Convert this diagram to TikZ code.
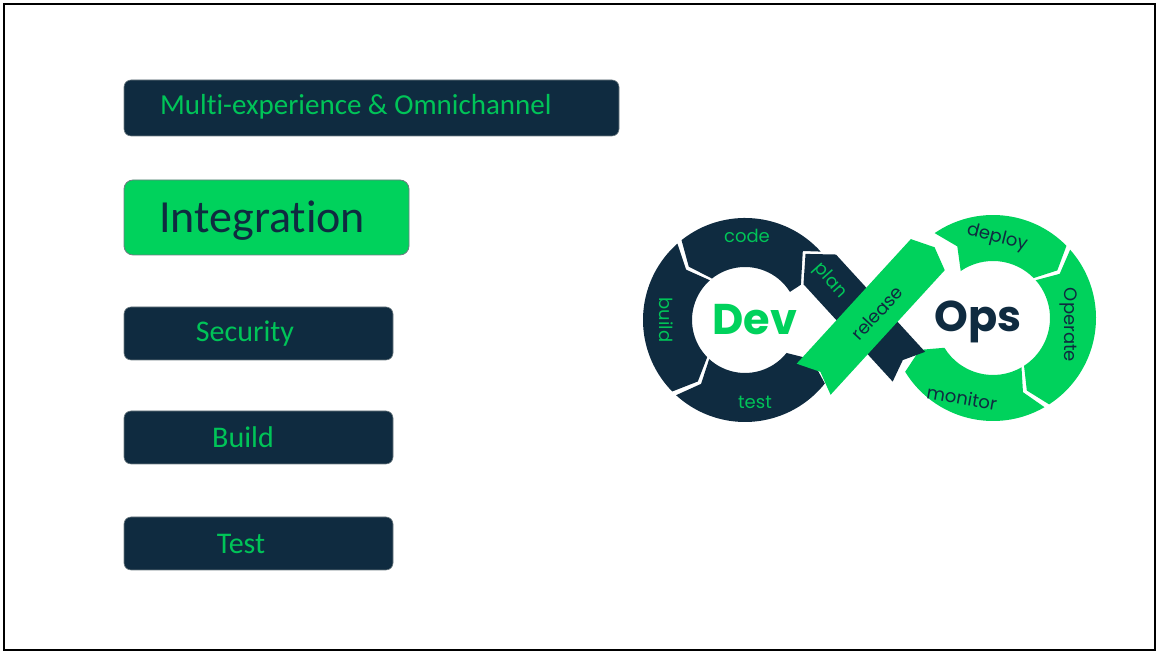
\documentclass[tikz,border=0pt]{standalone}
\usepackage{fontspec}
\setmainfont{Carlito}[Ligatures=NoCommon]
\newfontfamily\devfont{Poppins}
\usetikzlibrary{calc}
\definecolor{navy}{RGB}{15,43,64}
\definecolor{dgreen}{RGB}{0,210,92}
\definecolor{tgreen}{RGB}{0,196,88}
\definecolor{edge}{RGB}{110,125,130}
\newcommand\ringseg[8]{%
  \fill[#8] ([shift={(#1,#2)}]#5:#4) arc[start angle=#5, end angle=#6, radius=#4pt]
    -- ([shift={(#1,#2)}]{#6+#7}:{(#3+#4)/2}) -- ([shift={(#1,#2)}]#6:#3)
    arc[start angle=#6, end angle=#5, radius=#3pt]
    -- ([shift={(#1,#2)}]{#5+#7}:{(#3+#4)/2}) -- cycle;}
\tikzset{
  darkbox/.style={draw=edge, line width=0.6pt, fill=navy, rounded corners=7pt},
  greenbox/.style={draw=edge, line width=0.8pt, fill=dgreen, rounded corners=9pt},
  boxtext/.style={text=tgreen, font=\fontsize{30}{34}\selectfont, inner sep=0pt},
  lblg/.style={text=tgreen, font=\devfont\fontsize{18}{20}\selectfont, inner sep=0pt},
  lbld/.style={text=navy, font=\devfont\fontsize{18}{20}\selectfont, inner sep=0pt},
  big/.style={font=\devfont\bfseries\fontsize{43}{45}\selectfont, inner sep=0pt}
}
\begin{document}
\begin{tikzpicture}[x=1pt,y=1pt]
\useasboundingbox (0,0) rectangle (1157,652);
\draw[line width=2pt] (4,2) rectangle (1155,648);

% left boxes
\node[darkbox, minimum width=495pt, minimum height=56pt] (multi) at (371.5,544) {};
\node[boxtext, font=\fontsize{29}{33}\selectfont, anchor=west] (multit) at (160,545) {Multi-experience \& Omnichannel};
\node[greenbox, minimum width=285pt, minimum height=75pt] (integ) at (266.5,434.5) {};
\node[boxtext, text=navy, font=\fontsize{46}{50}\selectfont, anchor=west] (integt) at (159,431) {Integration};
\node[darkbox, minimum width=269pt, minimum height=53pt] (sec) at (258.5,318.5) {};
\node[boxtext] (sect) at (245,318.5) {Security};
\node[darkbox, minimum width=269pt, minimum height=53pt] (bld) at (258.5,214.5) {};
\node[boxtext] (bldt) at (243,214.5) {Build};
\node[darkbox, minimum width=269pt, minimum height=53pt] (tst) at (258.5,108.5) {};
\node[boxtext] (tstt) at (241,108.5) {Test};

% left ring (Dev), flow counter-clockwise
\fill[navy] (820.7,400.4) arc[start angle=42.1, end angle=128.5, radius=102pt]
  -- ([shift={(745,332)}]136.5:77.5) -- ([shift={(745,332)}]128.5:53)
  arc[start angle=128.5, end angle=32, radius=53pt]
  -- (800.9,367.3) -- (802.8,401) -- cycle;
\ringseg{745}{332}{53}{102}{131.5}{224.5}{8}{navy}
\ringseg{745}{332}{53}{102}{227.5}{321.5}{8}{navy}
% right ring (Ops), flow clockwise
\ringseg{993}{334}{57}{103}{124.5}{44.5}{-8}{dgreen}
\ringseg{993}{334}{57}{103}{41.5}{-57}{-8}{dgreen}
\ringseg{993}{334}{57}{103}{-60}{-148.5}{-8}{dgreen}

% crossing bands
\begin{scope}[shift={(867,331)}, rotate=132.5]
  \fill[navy] (-62,22) -- (70,22) -- (91,0) -- (70,-22) -- (-62,-22) -- (-53,0) -- cycle;
\end{scope}
\begin{scope}[shift={(867,331)}, rotate=47.5]
  \fill[dgreen] (-79,23) -- (90,23) -- (100,0) -- (90,-23) -- (-79,-23) -- (-69,0) -- cycle;
\end{scope}

% labels
\node[lblg] (code) at (747,416) {code};
\node[lblg, rotate=-90] (build) at (666,332) {build};
\node[lblg] (test) at (755,250) {test};
\node[lblg, rotate=-48] (plan) at (830,371) {plan};
\node[lbld, rotate=47.5] (release) at (877,339) {release};
\node[lbld, rotate=-14] (deploy) at (997,414) {deploy};
\node[lbld, rotate=-90] (operate) at (1068,327) {Operate};
\node[lbld, rotate=-10] (monitor) at (962,254) {monitor};
\node[big, text=dgreen] (dev) at (755,332) {Dev};
\node[big, text=navy] (ops) at (978,330) {Ops};
\end{tikzpicture}
\end{document}
